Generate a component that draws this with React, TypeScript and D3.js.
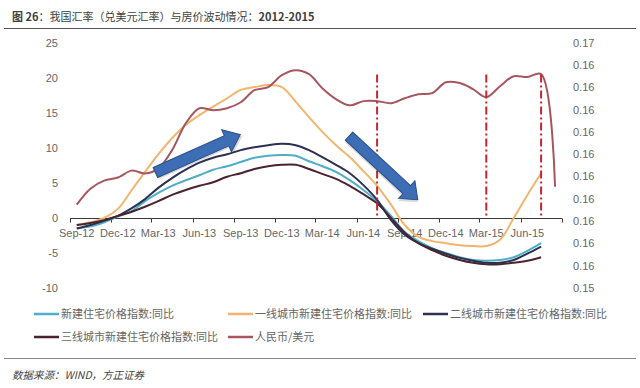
import React, { useEffect, useRef } from 'react'
import * as d3 from 'd3'

const months = [
  '2012-09', '2012-10', '2012-11', '2012-12', '2013-01', '2013-02', '2013-03', '2013-04', '2013-05',
  '2013-06', '2013-07', '2013-08', '2013-09', '2013-10', '2013-11', '2013-12', '2014-01', '2014-02',
  '2014-03', '2014-04', '2014-05', '2014-06', '2014-07', '2014-08', '2014-09', '2014-10', '2014-11',
  '2014-12', '2015-01', '2015-02', '2015-03', '2015-04', '2015-05', '2015-06', '2015-07', '2015-08',
]

// 同比 (%), Sep-12 .. Jul-15
const newHomeYoY = [
  -1.5, -1.2, -0.6, 0.2, 1.0, 2.4, 3.6, 4.6, 5.4, 6.1, 6.9, 7.4, 8.0, 8.6, 8.9, 9.0, 8.9, 8.1,
  7.4, 6.6, 5.4, 4.0, 2.4, 0.3, -2.0, -3.3, -4.3, -5.0, -5.6, -6.0, -6.1, -6.0, -5.6, -4.7, -3.6,
]
const tier1YoY = [
  -1.0, -0.6, 0.0, 1.3, 4.0, 6.6, 9.1, 11.4, 13.3, 14.7, 15.9, 17.1, 18.3, 18.7, 19.0, 18.7, 16.6, 14.4,
  12.3, 10.4, 8.7, 6.7, 4.6, 1.9, -1.0, -2.7, -3.3, -3.6, -3.9, -4.0, -4.0, -3.1, 0.0, 3.3, 6.4,
]
const tier2YoY = [
  -1.5, -1.0, -0.4, 0.3, 1.4, 2.7, 4.3, 5.7, 6.9, 7.9, 8.6, 9.1, 9.7, 10.1, 10.4, 10.6, 10.4, 9.7,
  8.7, 7.6, 6.4, 4.7, 2.6, -0.3, -2.4, -3.6, -4.4, -5.1, -5.7, -6.1, -6.4, -6.4, -6.0, -5.1, -4.1,
]
const tier3YoY = [
  -1.0, -0.7, -0.3, 0.3, 0.9, 1.6, 2.4, 3.3, 4.0, 4.6, 5.1, 5.9, 6.4, 7.0, 7.4, 7.6, 7.6, 7.0,
  6.3, 5.6, 4.6, 3.4, 2.1, 0.0, -2.1, -3.6, -4.6, -5.4, -6.0, -6.4, -6.6, -6.6, -6.4, -6.1, -5.6,
]
// 人民币/美元, Sep-12 .. Aug-15 (right axis)
const rmbUsd = [
  0.15824, 0.15896, 0.15932, 0.15946, 0.15977, 0.15964, 0.15986, 0.16068, 0.16189, 0.16257, 0.16248, 0.16257,
  0.16284, 0.16338, 0.16352, 0.16406, 0.16428, 0.1641, 0.16347, 0.16298, 0.1627, 0.16289, 0.16289, 0.1628,
  0.16302, 0.1632, 0.16325, 0.16374, 0.1637, 0.16343, 0.16307, 0.16356, 0.16401, 0.16397, 0.1641, 0.15905,
]

const xTickMonths = [
  '2012-09', '2012-12', '2013-03', '2013-06', '2013-09', '2013-12', '2014-03',
  '2014-06', '2014-09', '2014-12', '2015-03', '2015-06', '2015-09',
]
const xTickLabels = [
  'Sep-12', 'Dec-12', 'Mar-13', 'Jun-13', 'Sep-13', 'Dec-13', 'Mar-14',
  'Jun-14', 'Sep-14', 'Dec-14', 'Mar-15', 'Jun-15',
]
const leftTicks = [-10, -5, 0, 5, 10, 15, 20, 25]
const rightTicks = [0.1545, 0.1555, 0.1565, 0.1575, 0.1585, 0.1595, 0.1605, 0.1615, 0.1625, 0.1635, 0.1645, 0.1655]
const rightTickLabels = ['0.15', '0.16', '0.16', '0.16', '0.16', '0.16', '0.16', '0.16', '0.16', '0.16', '0.16', '0.17']

const markerMonths = ['2014-07', '2015-03', '2015-07']
const markerTop = 20.5

const arrows = [
  { from: ['2013-03-10', 6.5], to: ['2013-09-15', 11.9] },
  { from: ['2014-05-15', 11.7], to: ['2014-10-15', 2.6] },
]

const series = [
  { name: '新建住宅价格指数:同比', values: newHomeYoY, color: '#4eaec8' },
  { name: '一线城市新建住宅价格指数:同比', values: tier1YoY, color: '#f2b56e' },
  { name: '二线城市新建住宅价格指数:同比', values: tier2YoY, color: '#2c3152' },
  { name: '三线城市新建住宅价格指数:同比', values: tier3YoY, color: '#4a2331' },
]
const rmbName = '人民币/美元'
const rmbColor = '#a8565e'

const W = 640
const H = 388
const cjk = '"Noto Sans CJK SC", "Noto Sans", sans-serif'
const latin = '"Liberation Sans", Arial, sans-serif'

const parseMonth = d3.timeParse('%Y-%m')
const parseDay = d3.timeParse('%Y-%m-%d')
const midMonth = (m: string) => {
  const a = parseMonth(m) as Date
  const b = d3.timeMonth.offset(a, 1)
  return new Date((a.getTime() + b.getTime()) / 2)
}

const App: React.FC = () => {
  const svgRef = useRef<SVGSVGElement>(null)

  useEffect(() => {
    const svg = d3.select(svgRef.current)
    svg.selectAll('*').remove()

    const plot = { left: 70, right: 562, top: 43, bottom: 288 }

    const x = d3.scaleTime()
      .domain([parseMonth('2012-09') as Date, parseMonth('2015-09') as Date])
      .range([plot.left, plot.right])
    const yL = d3.scaleLinear().domain([-10, 25]).range([plot.bottom, plot.top])
    const yR = d3.scaleLinear().domain([0.1545, 0.1655]).range([plot.bottom, plot.top])

    svg.append('rect').attr('width', W).attr('height', H).attr('fill', '#fff')

    // 标题
    const title = svg.append('text')
      .attr('x', 12)
      .attr('y', 21)
      .attr('font-family', cjk)
      .attr('font-size', 11)
      .attr('fill', '#404040')
    title.append('tspan').attr('font-weight', 'bold').text('图 26')
    title.append('tspan').text('：我国汇率（兑美元汇率）与房价波动情况：')
    title.append('tspan').attr('font-weight', 'bold').text('2012-2015')

    svg.append('line')
      .attr('x1', 4).attr('x2', 636)
      .attr('y1', 28.5).attr('y2', 28.5)
      .attr('stroke', '#555').attr('stroke-width', 1)

    // 左轴
    svg.append('g')
      .selectAll('text')
      .data(leftTicks)
      .enter()
      .append('text')
      .attr('x', 58)
      .attr('y', d => yL(d))
      .attr('dy', '0.35em')
      .attr('text-anchor', 'end')
      .attr('font-family', latin)
      .attr('font-size', 11)
      .attr('fill', '#666')
      .text(d => String(d))

    // 右轴
    svg.append('g')
      .selectAll('text')
      .data(rightTicks)
      .enter()
      .append('text')
      .attr('x', 573)
      .attr('y', d => yR(d))
      .attr('dy', '0.35em')
      .attr('font-family', latin)
      .attr('font-size', 11)
      .attr('fill', '#666')
      .text((d, i) => rightTickLabels[i])

    // X轴 (在 0 处)
    const axisY = Math.round(yL(0)) + 0.5
    svg.append('line')
      .attr('x1', plot.left).attr('x2', plot.right)
      .attr('y1', axisY).attr('y2', axisY)
      .attr('stroke', '#3a3a3a').attr('stroke-width', 1)

    svg.append('g')
      .selectAll('line')
      .data(xTickMonths)
      .enter()
      .append('line')
      .attr('x1', d => Math.round(x(parseMonth(d) as Date)) + 0.5)
      .attr('x2', d => Math.round(x(parseMonth(d) as Date)) + 0.5)
      .attr('y1', axisY)
      .attr('y2', axisY + 4)
      .attr('stroke', '#3a3a3a')

    svg.append('g')
      .selectAll('text')
      .data(xTickLabels)
      .enter()
      .append('text')
      .attr('x', (d, i) => x(midMonth(xTickMonths[i])))
      .attr('y', axisY + 18)
      .attr('text-anchor', 'middle')
      .attr('font-family', latin)
      .attr('font-size', 11)
      .attr('fill', '#666')
      .text(d => d)

    // 房价线
    const lineL = d3.line<number>()
      .x((d, i) => x(midMonth(months[i])))
      .y(d => yL(d))
      .curve(d3.curveCatmullRom.alpha(0.5))

    series.forEach(s => {
      svg.append('path')
        .datum(s.values)
        .attr('fill', 'none')
        .attr('stroke', s.color)
        .attr('stroke-width', 2)
        .attr('stroke-linejoin', 'round')
        .attr('d', lineL)
    })

    // 人民币/美元 (右轴)
    const lineR = d3.line<number>()
      .x((d, i) => x(midMonth(months[i])))
      .y(d => yR(d))
      .curve(d3.curveCatmullRom.alpha(0.5))

    svg.append('path')
      .datum(rmbUsd)
      .attr('fill', 'none')
      .attr('stroke', rmbColor)
      .attr('stroke-width', 2)
      .attr('stroke-linejoin', 'round')
      .attr('d', lineR)

    // 竖虚线
    svg.append('g')
      .selectAll('line')
      .data(markerMonths)
      .enter()
      .append('line')
      .attr('x1', d => x(midMonth(d)))
      .attr('x2', d => x(midMonth(d)))
      .attr('y1', yL(markerTop))
      .attr('y2', yL(0))
      .attr('stroke', '#c0282e')
      .attr('stroke-width', 2)
      .attr('stroke-dasharray', '8,3,2,3')

    // 箭头
    arrows.forEach(a => {
      const x0 = x(parseDay(a.from[0] as string) as Date)
      const y0 = yL(a.from[1] as number)
      const x1 = x(parseDay(a.to[0] as string) as Date)
      const y1 = yL(a.to[1] as number)
      const L = Math.hypot(x1 - x0, y1 - y0)
      const ang = (Math.atan2(y1 - y0, x1 - x0) * 180) / Math.PI
      const hb = 5.5
      const hh = 12
      const hl = 15
      const pts: [number, number][] = [
        [0, -hb], [L - hl, -hb], [L - hl, -hh], [L, 0], [L - hl, hh], [L - hl, hb], [0, hb],
      ]
      const g = svg.append('g').attr('transform', `translate(${x0},${y0}) rotate(${ang})`)
      g.append('polygon')
        .attr('points', pts.map(p => `${p[0] + 1.5},${p[1] + 2}`).join(' '))
        .attr('fill', '#000')
        .attr('fill-opacity', 0.15)
      g.append('polygon')
        .attr('points', pts.map(p => p.join(',')).join(' '))
        .attr('fill', '#3d6db5')
        .attr('stroke', '#2a5088')
        .attr('stroke-width', 1)
    })

    // 图例
    const legendItems = [
      { name: series[0].name, color: series[0].color, x: 34, y: 314 },
      { name: series[1].name, color: series[1].color, x: 228, y: 314 },
      { name: series[2].name, color: series[2].color, x: 423, y: 314 },
      { name: series[3].name, color: series[3].color, x: 34, y: 337 },
      { name: rmbName, color: rmbColor, x: 228, y: 337 },
    ]
    const legend = svg.append('g')
    legendItems.forEach(it => {
      legend.append('line')
        .attr('x1', it.x).attr('x2', it.x + 25)
        .attr('y1', it.y).attr('y2', it.y)
        .attr('stroke', it.color).attr('stroke-width', 2.5)
      legend.append('text')
        .attr('x', it.x + 27)
        .attr('y', it.y)
        .attr('dy', '0.35em')
        .attr('font-family', cjk)
        .attr('font-size', 11)
        .attr('fill', '#666')
        .text(it.name)
    })

    // 底部
    svg.append('line')
      .attr('x1', 4).attr('x2', 636)
      .attr('y1', 358.5).attr('y2', 358.5)
      .attr('stroke', '#888').attr('stroke-width', 1)

    svg.append('text')
      .attr('x', 12)
      .attr('y', 379)
      .attr('font-family', cjk)
      .attr('font-size', 10.5)
      .attr('font-style', 'italic')
      .attr('fill', '#444')
      .text('数据来源：WIND，方正证券')
  }, [])

  return (
    <svg
      ref={svgRef}
      width={W}
      height={H}
      style={{ position: 'absolute', left: 0, top: 0, display: 'block' }}
    />
  )
}

export default App
